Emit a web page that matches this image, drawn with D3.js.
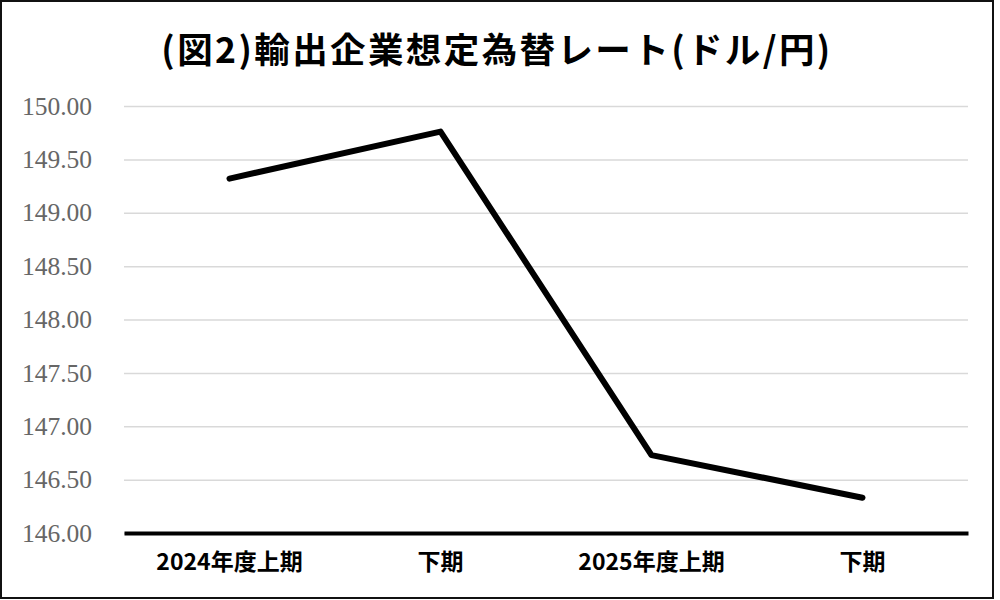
<!DOCTYPE html>
<html>
<head>
<meta charset="utf-8">
<script src="https://cdn.jsdelivr.net/npm/d3@7"></script>
<style>
  body { margin: 0; background: #fff; }
</style>
</head>
<body>
<div id="chart"></div>
<script>
// data
const categories = ["2024年度上期", "下期", "2025年度上期", "下期 "];
const categoryLabels = ["2024年度上期", "下期", "2025年度上期", "下期"];
const rates = [149.32, 149.76, 146.73, 146.33];
const yTicks = [146, 146.5, 147, 147.5, 148, 148.5, 149, 149.5, 150];
const title = "(図2)輸出企業想定為替レート(ドル/円)";

const W = 1000, H = 600;
const margin = {top: 106, right: 32, bottom: 67, left: 124},
    width = W - margin.left - margin.right,
    height = H - margin.top - margin.bottom;

const svg = d3.select("#chart")
  .append("svg")
    .attr("width", W)
    .attr("height", H);

// outer frame
svg.append("rect")
  .attr("x", 1).attr("y", 1)
  .attr("width", 992).attr("height", 597)
  .attr("fill", "#fff")
  .attr("stroke", "#111")
  .attr("stroke-width", 2);

svg.append("text")
  .attr("x", 497)
  .attr("y", 63)
  .attr("text-anchor", "middle")
  .attr("font-family", "Noto Sans CJK JP")
  .attr("font-weight", "bold")
  .attr("font-size", 35.5)
  .attr("letter-spacing", 2.4)
  .text(title);

const g = svg.append("g")
  .attr("transform", `translate(${margin.left}, ${margin.top})`);

const x = d3.scaleBand()
  .domain(categories)
  .range([0, width]);

const y = d3.scaleLinear()
  .domain([146, 150])
  .range([height, 0]);

// gridlines + y labels
const yAxis = g.append("g")
  .call(d3.axisLeft(y).tickValues(yTicks).tickSize(-width).tickFormat(d3.format(".2f")));
yAxis.attr("font-family", "Liberation Serif").attr("font-size", 25.5);
yAxis.select(".domain").remove();
yAxis.selectAll(".tick line")
  .attr("stroke", "#d9d9d9")
  .attr("stroke-width", 1.5);
yAxis.selectAll(".tick text")
  .attr("x", -32)
  .attr("fill", "#666");

// x axis
const xAxis = g.append("g")
  .attr("transform", `translate(0, ${height})`)
  .call(d3.axisBottom(x).tickSize(0).tickFormat((d, i) => categoryLabels[i]));
xAxis.attr("font-family", "Noto Sans CJK JP").attr("font-size", 23).attr("font-weight", "bold");
xAxis.select(".domain")
  .attr("stroke", "#000")
  .attr("stroke-width", 4);
xAxis.selectAll(".tick text")
  .attr("y", 21)
  .attr("dy", "0.71em")
  .attr("fill", "#000");

// the line
const line = d3.line()
  .x((d, i) => x(categories[i]) + x.bandwidth() / 2)
  .y(d => y(d));

g.append("path")
  .datum(rates)
  .attr("fill", "none")
  .attr("stroke", "#000")
  .attr("stroke-width", 6)
  .attr("stroke-linejoin", "round")
  .attr("stroke-linecap", "round")
  .attr("d", line);
</script>
</body>
</html>
